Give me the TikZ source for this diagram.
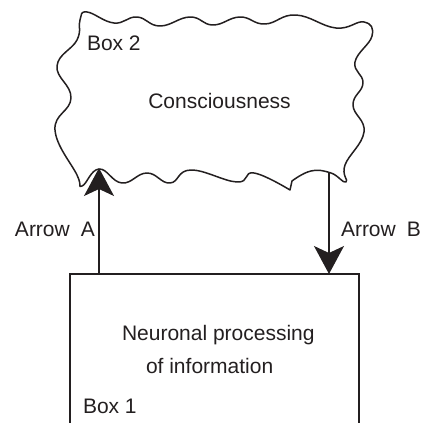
\documentclass[tikz,border=0pt]{standalone}
\usepackage{fontspec}
\setmainfont{Liberation Sans}
\usetikzlibrary{arrows.meta}
\definecolor{ink}{RGB}{35,31,32}
\begin{document}
\begin{tikzpicture}[x=1pt,y=-1pt,
  every node/.style={inner sep=0pt, outer sep=0pt, text=ink, font=\fontsize{21}{25}\selectfont},
  lbl/.style={anchor=base west},
  outline/.style={draw=ink, line width=1.5pt},
  flow/.style={draw=ink, line width=1.3pt, -{Stealth[length=28pt,width=30pt,inset=7pt]}}]
\useasboundingbox (0,0) rectangle (424,423);
\clip (0,0) rectangle (424,423);
% Box 2: wavy cloud
\draw[outline, line join=round] plot[smooth, tension=0.75] coordinates {
 (292,181) (311,171) (331,173) (346,182)
 (345,165) (364,132) (353,105) (363,83) (355,62) (372,36) (364,22) (336,28)
 (296,15) (265,24) (240,17) (213,25) (190,17) (160,26) (137,17) (114,23) (87,12) (80,20)
 (77,40) (57,66) (71,98) (55,130) (77,175) (82,186)
 (99,169) (122,183) (147,173) (170,183) (191,170) (237,182) (254,173) (290,190)
} -- cycle;
% Box 1
\node[outline, line width=1.4pt, anchor=north west, minimum width=289pt, minimum height=200pt] (box1) at (70,274) {};
% arrows
\coordinate (tipA) at (99,168);
\coordinate (srcB) at (329,172);
\draw[flow] (box1.north -| tipA) -- (tipA);
\draw[flow] (srcB) -- (srcB |- box1.north);
% texts
\node[lbl] (box2lbl) at (87,50) {Box 2};
\node[anchor=base] (cons) at (219.5,108) {Consciousness};
\node[lbl] (arrA) at (15,236) {Arrow\hspace{11pt}A};
\node[lbl] (arrB) at (341,236) {Arrow\hspace{11pt}B};
\node[lbl] (neur) at (122,340) {Neuronal processing};
\node[lbl] (info) at (146,373) {of information};
\node[lbl] (box1lbl) at (83,413) {Box 1};
\end{tikzpicture}
\end{document}
